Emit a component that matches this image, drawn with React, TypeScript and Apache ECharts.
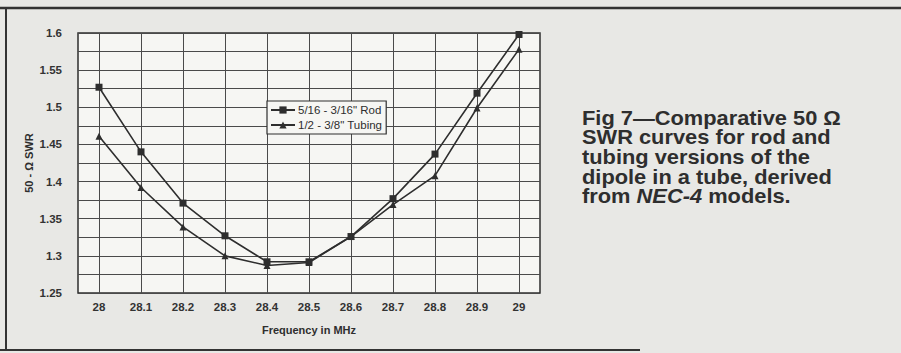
import React, { useEffect, useRef } from "react";
import * as echarts from "echarts";

const frequencies = ["28", "28.1", "28.2", "28.3", "28.4", "28.5", "28.6", "28.7", "28.8", "28.9", "29"];
const rodSwr = [1.527, 1.44, 1.371, 1.327, 1.292, 1.292, 1.326, 1.377, 1.437, 1.519, 1.598];
const tubingSwr = [1.461, 1.392, 1.339, 1.3, 1.287, 1.291, 1.326, 1.369, 1.408, 1.499, 1.578];
const seriesNames = ["5/16 - 3/16\" Rod", "1/2 - 3/8\" Tubing"];
const captionLines = [
  "Fig 7—Comparative 50 Ω",
  "SWR curves for rod and",
  "tubing versions of the",
  "dipole in a tube, derived",
  "from {i|NEC-4} models.",
];

const ink = "#2e2e2e";
const font = "'Liberation Sans', Arial, sans-serif";

export default function App() {
  const ref = useRef<HTMLDivElement>(null);
  useEffect(() => {
    document.body.style.margin = "0";
    if (!ref.current) return;
    const chart = echarts.init(ref.current, null, { renderer: "svg" });
    const captionSize = 19.5;
    const captionLead = 19.6;
    chart.setOption({
      animation: false,
      backgroundColor: "#e8e8e5",
      textStyle: { fontFamily: font },
      grid: {
        left: 78,
        right: 361,
        top: 33,
        bottom: 60,
        show: true,
        backgroundColor: "#f6f6f3",
        borderColor: ink,
        borderWidth: 1.5,
      },
      legend: {
        orient: "vertical",
        left: 267,
        top: 101,
        data: seriesNames,
        backgroundColor: "#f6f6f3",
        borderColor: ink,
        borderWidth: 1.2,
        borderRadius: 0,
        padding: [3, 4, 3, 3],
        itemGap: 3,
        itemWidth: 24,
        itemHeight: 9,
        textStyle: { fontSize: 11.5, color: ink, fontFamily: font, padding: [0, 0, 0, -2] },
      },
      xAxis: {
        type: "category",
        data: frequencies,
        boundaryGap: true,
        name: "Frequency in MHz",
        nameLocation: "middle",
        nameGap: 31,
        nameMoveOverlap: false,
        nameTextStyle: { fontSize: 11, fontWeight: "bold", color: ink },
        axisLine: { show: false },
        axisTick: { show: false, alignWithLabel: true },
        axisLabel: { fontSize: 11.5, fontWeight: "bold", color: "#333", margin: 8 },
        splitLine: { show: true, alignWithLabel: true, lineStyle: { color: "#4a4a4a", width: 1 } },
      },
      yAxis: {
        type: "value",
        min: 1.25,
        max: 1.6,
        interval: 0.05,
        name: "50 - Ω SWR",
        nameLocation: "middle",
        nameGap: 44,
        nameMoveOverlap: false,
        nameTextStyle: { fontSize: 11, fontWeight: "bold", color: ink },
        axisLine: { show: false },
        axisTick: { show: false },
        axisLabel: { fontSize: 11.5, fontWeight: "bold", color: "#333", margin: 16 },
        splitLine: { show: true, lineStyle: { color: "#4a4a4a", width: 1 } },
        minorTick: { show: false, splitNumber: 2 },
        minorSplitLine: { show: true, lineStyle: { color: "#4a4a4a", width: 1 } },
      },
      series: [
        {
          name: seriesNames[0],
          type: "line",
          data: rodSwr,
          symbol: "rect",
          symbolSize: 7,
          itemStyle: { color: ink },
          lineStyle: { color: ink, width: 1.6 },
        },
        {
          name: seriesNames[1],
          type: "line",
          data: tubingSwr,
          symbol: "triangle",
          symbolSize: 7,
          itemStyle: { color: ink },
          lineStyle: { color: ink, width: 1.6 },
        },
      ],
      graphic: [
        { type: "line", shape: { x1: 0, y1: 8, x2: 901, y2: 8 }, style: { stroke: "#333", lineWidth: 2.5 } },
        { type: "line", shape: { x1: 6, y1: 8, x2: 6, y2: 351 }, style: { stroke: "#333", lineWidth: 2 } },
        { type: "line", shape: { x1: 0, y1: 350, x2: 640, y2: 350 }, style: { stroke: "#333", lineWidth: 2 } },
        ...captionLines.map((line, i) => ({
          type: "text",
          x: 582,
          y: 108 + i * captionLead,
          scaleX: 1.12,
          style: {
            text: line,
            fontSize: captionSize,
            fontWeight: "bold",
            fontFamily: font,
            lineHeight: captionLead,
            fill: ink,
            rich: {
              i: {
                fontStyle: "italic",
                fontWeight: "bold",
                fontSize: captionSize,
                fontFamily: font,
                lineHeight: captionLead,
                fill: ink,
              },
            },
          },
        })),
      ],
    });
    return () => chart.dispose();
  }, []);
  return <div ref={ref} style={{ width: 901, height: 353 }} />;
}
